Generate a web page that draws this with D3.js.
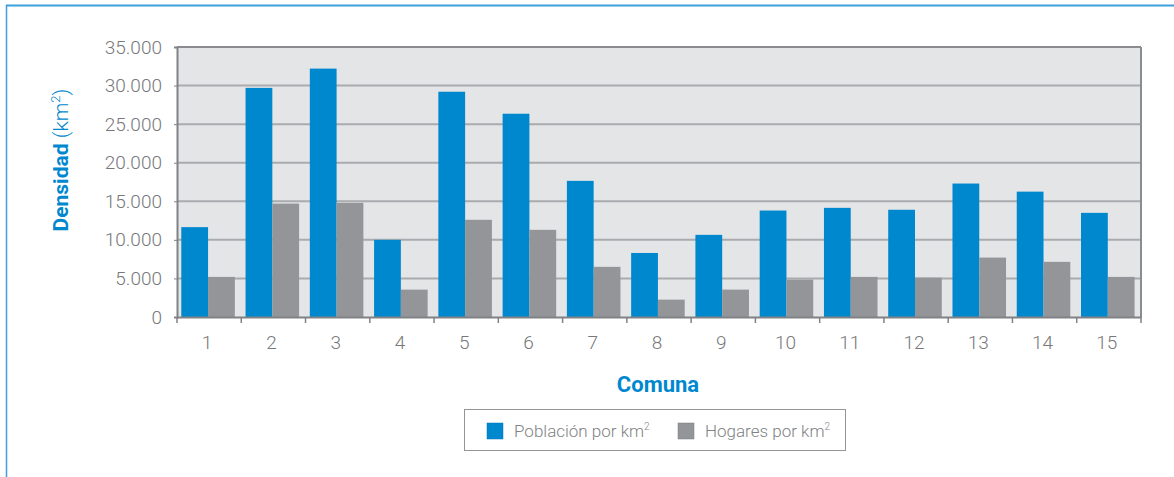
<!DOCTYPE html>
<html>
<head>
<meta charset="utf-8">
<script src="https://cdn.jsdelivr.net/npm/d3@7"></script>
<style>
  body { margin: 0; background: #fff; }
  svg { display: block; font-family: Roboto, "Liberation Sans", Arial, sans-serif; }
</style>
</head>
<body>
<div id="chart"></div>
<script>
// data
var comunas = ["1","2","3","4","5","6","7","8","9","10","11","12","13","14","15"];
var poblacion = [11650, 29700, 32200, 10000, 29200, 26350, 17650, 8300, 10650, 13800, 14150, 13900, 17300, 16250, 13500];
var hogares = [5200, 14700, 14800, 3550, 12600, 11300, 6500, 2250, 3550, 4850, 5200, 5100, 7700, 7150, 5200];
var yTicks = [0, 5000, 10000, 15000, 20000, 25000, 30000, 35000];
var seriesNames = ["Población por km", "Hogares por km"];
var colors = ["#0088cf", "#939598"];

var W = 1174, H = 477;
var margin = {top: 47, right: 33, bottom: 160, left: 177},
    width = W - margin.left - margin.right,
    height = H - margin.top - margin.bottom;

var root = d3.select("#chart").append("svg")
    .attr("width", W)
    .attr("height", H);

// outer frame lines
root.append("line").attr("x1", 6).attr("x2", W).attr("y1", 5.5).attr("y2", 5.5)
    .attr("stroke", "#3d9fdc").attr("stroke-width", 2);
root.append("line").attr("x1", 6.5).attr("x2", 6.5).attr("y1", 5).attr("y2", H)
    .attr("stroke", "#3d9fdc").attr("stroke-width", 1.5);

var svg = root.append("g")
    .attr("transform", "translate(" + margin.left + "," + margin.top + ")");

var x = d3.scaleBand().domain(comunas).range([0, width]).padding(0);
var xSub = d3.scaleBand().domain([0, 1]).range([0, x.bandwidth()])
    .paddingInner(0).paddingOuter(0.2).align(0.4);
var y = d3.scaleLinear().domain([0, 35000]).range([height, 0]);

// plot background
svg.append("rect").attr("width", width).attr("height", height).attr("fill", "#e4e5e7");

// grid lines
svg.append("g").selectAll("line")
  .data(yTicks.slice(1))
  .enter().append("line")
    .attr("x1", 0).attr("x2", width)
    .attr("y1", function(d) { return y(d); })
    .attr("y2", function(d) { return y(d); })
    .attr("stroke", function(d) { return d == 35000 ? "#8a8c8f" : "#a9abae"; })
    .attr("stroke-width", 2);

// right border
svg.append("line").attr("x1", width).attr("x2", width).attr("y1", 0).attr("y2", height)
    .attr("stroke", "#8a8c8f").attr("stroke-width", 2);

// bars
var groups = svg.append("g").selectAll("g")
  .data(comunas)
  .enter().append("g")
    .attr("transform", function(d) { return "translate(" + x(d) + ",0)"; });

groups.selectAll("rect")
  .data(function(d, i) { return [poblacion[i], hogares[i]]; })
  .enter().append("rect")
    .attr("x", function(d, j) { return xSub(j); })
    .attr("width", xSub.bandwidth())
    .attr("y", function(d) { return y(d); })
    .attr("height", function(d) { return height - y(d); })
    .attr("fill", function(d, j) { return colors[j]; });

// y axis
var yAxis = svg.append("g")
    .call(d3.axisLeft(y).tickValues(yTicks).tickSize(3).tickPadding(12)
      .tickFormat(function(d) { return d3.format(",")(d).replace(/,/g, "."); }));
yAxis.select(".domain").attr("stroke", "#808285").attr("stroke-width", 2);
yAxis.selectAll(".tick line").attr("stroke", "#808285");
yAxis.selectAll("text").attr("fill", "#77787b").attr("font-weight", 300)
    .style("font-size", "19px").style("font-family", "Roboto, sans-serif");

// x axis with ticks at the category boundaries
var xAxis = svg.append("g").attr("transform", "translate(0," + height + ")")
    .call(d3.axisBottom(x).tickSize(0).tickPadding(19));
xAxis.select(".domain").attr("stroke", "#808285").attr("stroke-width", 2);
xAxis.selectAll("text").attr("fill", "#77787b").attr("font-weight", 300)
    .attr("dx", -2)
    .style("font-size", "19px").style("font-family", "Roboto, sans-serif");
svg.append("g").selectAll("line")
  .data(d3.range(comunas.length + 1))
  .enter().append("line")
    .attr("x1", function(i) { return i * x.step(); })
    .attr("x2", function(i) { return i * x.step(); })
    .attr("y1", height).attr("y2", height + 6)
    .attr("stroke", "#808285").attr("stroke-width", 1.5);

// axis titles
var yTitle = root.append("text")
    .attr("transform", "translate(68,160) rotate(-90)")
    .attr("text-anchor", "middle")
    .attr("fill", "#0088cf")
    .style("font-size", "21px");
yTitle.append("tspan").attr("font-weight", "bold").text("Densidad ");
yTitle.append("tspan").attr("font-weight", 300).text("(km");
yTitle.append("tspan").attr("font-weight", 300).attr("dy", -8).style("font-size", "13px").text("2");
yTitle.append("tspan").attr("font-weight", 300).attr("dy", 8).text(")");

root.append("text")
    .attr("x", 658).attr("y", 392)
    .attr("text-anchor", "middle")
    .attr("fill", "#0088cf")
    .attr("font-weight", "bold")
    .style("font-size", "22px")
    .text("Comuna");

// legend
var legend = root.append("g").attr("transform", "translate(464,409)");
legend.append("rect").attr("x", 0.5).attr("y", 0.5).attr("width", 381).attr("height", 41)
    .attr("fill", "#fff").attr("stroke", "#939598").attr("stroke-width", 1);

var legendX = [23, 214];
var items = legend.selectAll("g.item")
  .data(seriesNames)
  .enter().append("g")
    .attr("transform", function(d, i) { return "translate(" + legendX[i] + ",14)"; });
items.append("rect").attr("width", 16).attr("height", 16)
    .attr("fill", function(d, i) { return colors[i]; })
    .attr("stroke", function(d, i) { return i ? "#7a7c7f" : "#0077b8"; })
    .attr("stroke-width", 0.5);
var lt = items.append("text").attr("x", 27).attr("y", 14)
    .attr("fill", "#808285").attr("font-weight", 300).style("font-size", "17px");
lt.append("tspan").text(function(d) { return d; });
lt.append("tspan").attr("dy", -7).style("font-size", "10px").text("2");
</script>
</body>
</html>
